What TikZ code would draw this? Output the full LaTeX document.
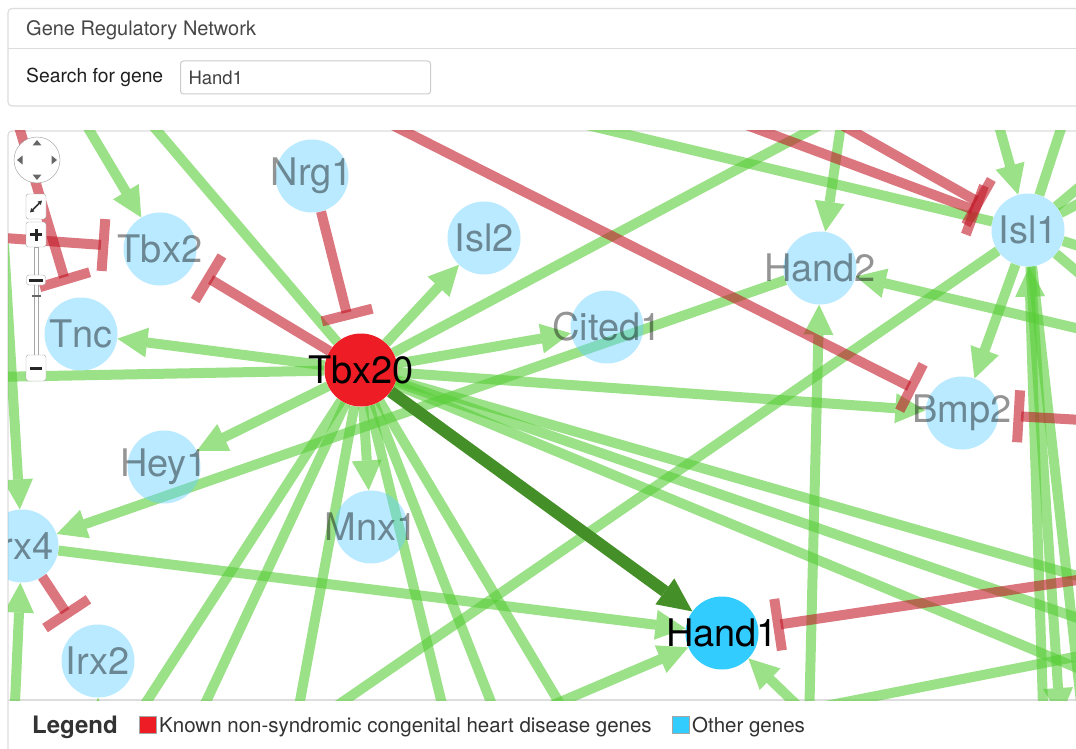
\documentclass[tikz,border=0pt]{standalone}
\usepackage{fontspec}
\setmainfont{TeX Gyre Heros}
\usetikzlibrary{arrows.meta}
\definecolor{gGreen}{RGB}{88,205,55}
\definecolor{gRed}{RGB}{195,25,40}
\definecolor{gDark}{HTML}{458F28}
\definecolor{gPale}{RGB}{100,210,255}
\definecolor{gOther}{HTML}{33CCFF}
\definecolor{gKnown}{HTML}{EE1C25}
\definecolor{gRule}{HTML}{DDDDDD}
\definecolor{gText}{HTML}{333333}
\pgfdeclarelayer{back}
\pgfdeclarelayer{edges}
\pgfsetlayers{back,edges,main}
\newcommand{\glab}[1]{\makebox[0pt]{#1}}

\begin{document}
\begin{tikzpicture}[
  x=1pt, y=-1pt,
  every node/.style={text=gText},
  gene/.style={circle, minimum size=73pt, inner sep=0pt, fill=gPale,
               fill opacity=0.45, text=black, text opacity=0.42,
               font=\fontsize{38}{40}\selectfont},
  hub/.style={gene, fill opacity=1, text opacity=1},
  act/.style={gGreen, opacity=0.6, line width=10pt,
              -{Triangle[length=30pt, width=30pt, line width=0pt]}},
  lnk/.style={gGreen, opacity=0.6, line width=10pt},
  inh/.style={gRed, opacity=0.6, line width=10pt,
              -{Bar[width=52pt]}, shorten >=15pt},
  key/.style={gDark, line width=12pt,
              -{Triangle[length=34pt, width=32pt, line width=0pt]}},
  panel/.style={draw=gRule, line width=1.2pt, fill=white, rounded corners=4pt},
  btn/.style={draw=black!35, fill=white, rounded corners=2.5pt,
              minimum width=20pt, minimum height=25pt, inner sep=0pt},
  swatch/.style={draw=black!35, line width=1pt, minimum size=17pt, inner sep=0pt},
]
  \useasboundingbox (0,0) rectangle (1076,749);

  % panels
  \begin{pgfonlayer}{back}
    \begin{scope}
      \clip (0,0) rectangle (1076,749);
      \fill[white] (0,0) rectangle (1076,749);
      \draw[panel] (8,8.5) rectangle (1100,106);
      \draw[gRule, line width=1.2pt] (8,48.5) -- (1076,48.5);
      \draw[panel] (8,131) rectangle (1100,800);
      \draw[gRule, line width=1.2pt] (8,700) -- (1076,700);
    \end{scope}
  \end{pgfonlayer}

  % header
  \node[anchor=base west, inner sep=0pt, font=\fontsize{20}{24}\selectfont,
        text=black!72] (title) at (26,36) {Gene Regulatory Network};
  \node[anchor=base west, inner sep=0pt, font=\fontsize{19.3}{24}\selectfont,
        text=black!88] (searchLbl) at (26,83) {Search for gene};
  \node[anchor=west, draw=black!20, line width=1pt, rounded corners=3pt,
        minimum height=33pt, text width=234pt, inner xsep=8pt, inner ysep=0pt,
        align=left, font=\fontsize{18.5}{22}\selectfont, text=black!75]
        (searchBox) at (180,77.5) {Hand1};

  % network nodes
  \begin{scope}
    \clip (8,131) rectangle (1076,700);
    \node[gene] (Nrg1)   at (312,176)  {\glab{Nrg1}};
    \node[gene] (Tbx2)   at (160,249)  {\glab{Tbx2}};
    \node[gene] (Isl2)   at (484,238)  {\glab{Isl2}};
    \node[gene] (Tnc)    at (81,334)   {\glab{Tnc}};
    \node[gene] (Cited1) at (607,327)  {\glab{Cited1}};
    \node[gene] (Hand2)  at (820,268)  {\glab{Hand2}};
    \node[gene] (Isl1)   at (1028,230) {\glab{Isl1}};
    \node[gene] (Bmp2)   at (962,413)  {\glab{Bmp2}};
    \node[gene] (Hey1)   at (164,467)  {\glab{Hey1}};
    \node[gene] (Irx4)   at (22,546)   {\glab{Irx4}};
    \node[gene] (Mnx1)   at (371,527)  {\glab{Mnx1}};
    \node[gene] (Irx2)   at (98,661)   {\glab{Irx2}};
    \node[hub, fill=gKnown] (Tbx20) at (361,370) {\glab{Tbx20}};
    \node[hub, fill=gOther] (Hand1) at (722,633) {\glab{Hand1}};
  \end{scope}

  % edges, under the nodes
  \begin{pgfonlayer}{edges}
  \begin{scope}
    \clip (8,131) rectangle (1076,700);
    % free ends outside the panel
    \coordinate (wTbx20)  at (-60,378);
    \coordinate (nTbx20)  at (96,59);
    \coordinate (neTbx20) at (899,83);
    \coordinate (nTbx2)   at (69,96);
    \coordinate (wTbx2)   at (-24,236);
    \coordinate (nTnc)    at (8,90);
    \coordinate (nIrx4)   at (4,244);
    \coordinate (sIrx4)   at (12,770);
    \coordinate (sIrx2)   at (98,770);
    \coordinate (nBmp2)   at (321,89);
    \coordinate (eBmp2)   at (1099,421);
    \coordinate (nIsl1a)  at (709,111);
    \coordinate (nIsl1b)  at (817,111);
    \coordinate (nIsl1c)  at (528,111);
    \coordinate (nIsl1d)  at (992,101);
    \coordinate (nIsl1e)  at (1070,101);
    \coordinate (sIsl1a)  at (1060,718);
    \coordinate (sIsl1b)  at (1045,770);
    \coordinate (sIsl1c)  at (1092,800);
    \coordinate (swIsl1)  at (277,747);
    \coordinate (nHand2)  at (844,104);
    \coordinate (sHand2)  at (808,765);
    \coordinate (eHand2)  at (1127,340);
    \coordinate (eHand1)  at (1111,575);
    \coordinate (swHand1) at (485,734);
    \coordinate (seHand1) at (827,734);
    \coordinate (sCross)  at (800,711);
    \coordinate (eCross)  at (1130,646);

    % Tbx20 fan
    \foreach \g in {Tnc,Isl2,Cited1,Hey1,Mnx1,Bmp2}
      \draw[act] (Tbx20) -- (\g);
    \foreach \n/\x in {1/105,2/176,3/288,4/457,5/516,6/597} {
      \coordinate (sTbx20\n) at (\x,766);
      \draw[lnk] (Tbx20) -- (sTbx20\n);
    }
    \foreach \n/\y in {1/596,2/642,3/697} {
      \coordinate (eTbx20\n) at (1147,\y);
      \draw[lnk] (Tbx20) -- (eTbx20\n);
    }
    \draw[lnk] (Tbx20) -- (wTbx20);
    \draw[lnk] (Tbx20) -- (nTbx20);
    \draw[lnk] (Tbx20) -- (neTbx20);

    % left side
    \draw[act] (nTbx2) -- (Tbx2);
    \draw[act] (nIrx4) -- (Irx4);
    \draw[act] (sIrx4) -- (Irx4);
    \draw[act] (sIrx2) -- (Irx2);
    \draw[act] (Hand2) -- (Irx4);
    \draw[act] (Irx4) -- (Hand1);

    % Isl1
    \draw[act] (nIsl1d) -- (Isl1);
    \draw[lnk] (Isl1) -- (nIsl1e);
    \draw[lnk] (Isl1) -- (nIsl1c);
    \foreach \n/\y in {1/153,2/182,3/259,4/308} {
      \coordinate (eIsl1\n) at (1120,\y);
      \draw[lnk] (Isl1) -- (eIsl1\n);
    }
    \draw[act] (Isl1) -- (Bmp2);
    \draw[lnk] (Isl1) -- (swIsl1);
    \draw[act] (Isl1) -- (sIsl1a);
    \draw[act] (sIsl1b) -- (Isl1);
    \draw[lnk] (Isl1) -- (sIsl1c);

    % Hand2, Hand1
    \draw[act] (nHand2) -- (Hand2);
    \draw[act] (sHand2) -- (Hand2);
    \draw[act] (eHand2) -- (Hand2);
    \draw[act] (swHand1) -- (Hand1);
    \draw[act] (seHand1) -- (Hand1);
    \draw[lnk] (sCross) -- (eCross);

    % inhibitions
    \draw[inh] (Nrg1) -- (Tbx20);
    \draw[inh] (Tbx20) -- (Tbx2);
    \draw[inh] (wTbx2) -- (Tbx2);
    \draw[inh] (nTnc) -- (Tnc);
    \draw[inh] (Irx4) -- (Irx2);
    \draw[inh] (nBmp2) -- (Bmp2);
    \draw[inh] (eBmp2) -- (Bmp2);
    \draw[inh] (nIsl1a) -- (Isl1);
    \draw[inh] (nIsl1b) -- (Isl1);
    \draw[inh] (eHand1) -- (Hand1);

    % searched edge
    \draw[key] (Tbx20) -- (Hand1);
  \end{scope}
  \end{pgfonlayer}

  % navigation controls
  \node[circle, draw=black!40, fill=white, minimum size=46pt, inner sep=0pt] (pad) at (37,160) {};
  \foreach \a in {0,90,180,270}
    \fill[black!60, shift={(pad.center)}, rotate=\a] (0,-20) -- (4.5,-14.5) -- (-4.5,-14.5) -- cycle;
  \node[btn] (fit) at (36,206.5) {};
  \draw[black!80, line width=1.5pt, shift={(fit.center)},
        {Triangle[length=4pt,width=4.5pt]}-{Triangle[length=4pt,width=4.5pt]}] (-6,6) -- (6,-6);
  \node[btn] (zoomIn) at (36,234.5) {};
  \draw[black!85, line width=3pt, shift={(zoomIn.center)}] (-6,0) -- (6,0) (0,-6) -- (0,6);
  \draw[black!35, fill=white] (34,247) rectangle (38.5,355);
  \node[btn, minimum height=10pt, minimum width=19pt] (knob) at (36,280) {};
  \draw[black!85, line width=3pt, shift={(knob.center)}] (-7,0) -- (7,0);
  \draw[black!60, line width=1.5pt] (32,296) -- (40.5,296);
  \node[btn, minimum height=26pt] (zoomOut) at (36,368) {};
  \draw[black!85, line width=3pt, shift={(zoomOut.center)}] (-6,0) -- (6,0);

  % legend
  \node[anchor=base west, inner sep=0pt, font=\bfseries\fontsize{24}{28}\selectfont]
        (legend) at (32,733) {Legend};
  \node[swatch, fill=gKnown] (knownSw) at (148,724.5) {};
  \node[anchor=base west, inner sep=0pt, font=\fontsize{20.5}{24}\selectfont]
        (knownTxt) at (159,732) {Known non-syndromic congenital heart disease genes};
  \node[swatch, fill=gOther] (otherSw) at (680.5,724.5) {};
  \node[anchor=base west, inner sep=0pt, font=\fontsize{20.5}{24}\selectfont]
        (otherTxt) at (692,732) {Other genes};
\end{tikzpicture}
\end{document}
